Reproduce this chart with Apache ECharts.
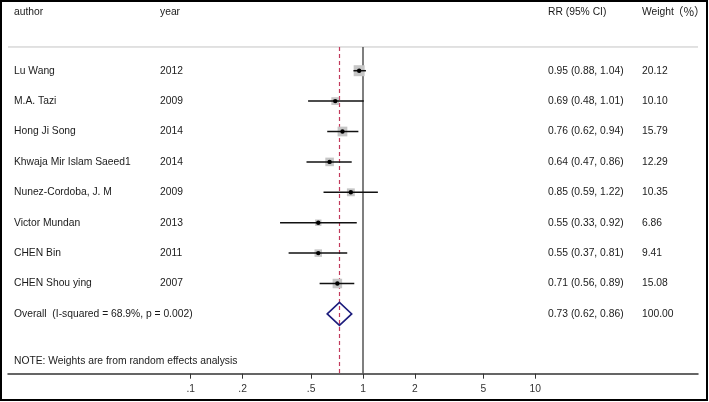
<!DOCTYPE html>
<html><head><meta charset="utf-8">
<script src="https://cdn.jsdelivr.net/npm/echarts@6/dist/echarts.min.js"></script>
<style>html,body{margin:0;padding:0;background:#fff}#c{width:709px;height:402px}</style>
</head><body><div id="c"></div>
<script>
const authors = ['Lu Wang','M.A. Tazi','Hong Ji Song','Khwaja Mir Islam Saeed1','Nunez-Cordoba, J. M','Victor Mundan','CHEN Bin','CHEN Shou ying'];
const years = ['2012','2009','2014','2014','2009','2013','2011','2007'];
const rr = [0.95,0.69,0.76,0.64,0.85,0.55,0.55,0.71];
const ciLow = [0.88,0.48,0.62,0.47,0.59,0.33,0.37,0.56];
const ciHigh = [1.04,1.01,0.94,0.86,1.22,0.92,0.81,0.89];
const weights = [20.12,10.10,15.79,12.29,10.35,6.86,9.41,15.08];
const overall = {label:'Overall  (I-squared = 68.9%, p = 0.002)', rr:0.73, lo:0.62, hi:0.86, w:100.00};
const tickValues = [0.1,0.2,0.5,1,2,5,10];
const tickLabels = ['.1','.2','.5','1','2','5','10'];
const headers = ['author','year','RR (95% CI)','Weight'];
const headerUnit = '（%）';
const note = 'NOTE: Weights are from random effects analysis';

const L = Math.log10;
const FONT = 'Liberation Sans, Arial, sans-serif';
const FS = 10.3;
const colX = [14, 160, 548, 642];
const headX = [14, 160, 548, 642];
const nullValue = 1;

const rowsData = rr.map((v,i)=>[L(v), i, L(ciLow[i]), L(ciHigh[i]), weights[i]]);
const textRows = authors.map((a,i)=>[0, i, a, years[i],
  rr[i].toFixed(2)+' ('+ciLow[i].toFixed(2)+', '+ciHigh[i].toFixed(2)+')', weights[i].toFixed(2)]);
textRows.push([0, 8, overall.label, '', overall.rr.toFixed(2)+' ('+overall.lo.toFixed(2)+', '+overall.hi.toFixed(2)+')', overall.w.toFixed(2)]);

const chart = echarts.init(document.getElementById('c'));
const tickLogs = tickValues.map(L);
const yTop = -0.78;
function txt(t, x, y, extra){
  return Object.assign({type:'text', style:{text:t, x:x, y:y, fill:'#1a1a1a', fontSize:FS, fontFamily:FONT, verticalAlign:'middle', align:'left'}}, extra||{});
}
chart.setOption({
  animation:false,
  grid:{left:8, right:11, top:0, bottom:28.3},
  xAxis:{type:'value', min:-2.0604, max:1.9443,
    axisLine:{show:true, onZero:false, lineStyle:{color:'#333', width:1.5}},
    axisTick:{show:true, customValues:tickLogs, length:5, lineStyle:{color:'#333', width:1}},
    axisLabel:{show:true, customValues:tickLogs, margin:10, color:'#333', fontSize:FS, fontFamily:FONT,
      formatter:(v)=>{let k=tickLogs.findIndex(t=>Math.abs(t-v)<1e-6);return k>=0?tickLabels[k]:'';}},
    splitLine:{show:false}},
  yAxis:{type:'value', inverse:true, min:-2.326, max:9.967, show:false},
  graphic:[{type:'rect', shape:{x:1,y:1,width:706,height:399}, style:{fill:'none', stroke:'#000', lineWidth:2}, z:100}],
  series:[
    {type:'custom', clip:false, z:1, data:[[0,0]], renderItem:(params, api)=>{
      const cs = params.coordSys;
      const pTop = api.coord([0, yTop])[1];
      const pBot = cs.y + cs.height;
      const xn = api.coord([L(nullValue), 0])[0];
      const xo = Math.round(api.coord([L(overall.rr), 0])[0]) + 0.5;
      return {type:'group', children:[
        {type:'line', shape:{x1:cs.x, y1:pTop, x2:cs.x+cs.width, y2:pTop}, style:{stroke:'#c4c4c4', lineWidth:1}},
        {type:'line', shape:{x1:xn, y1:pTop, x2:xn, y2:pBot}, style:{stroke:'#555', lineWidth:1.5}},
        {type:'line', shape:{x1:xo, y1:pTop, x2:xo, y2:pBot}, style:{stroke:'#c23a5c', lineWidth:1.2, lineDash:[4,3]}}
      ]};
    }},
    {type:'custom', clip:false, z:3, data:rowsData, encode:{x:0,y:1}, renderItem:(params, api)=>{
      const c = api.coord([api.value(0), api.value(1)]);
      const lo = api.coord([api.value(2), api.value(1)]);
      const hi = api.coord([api.value(3), api.value(1)]);
      const s = 2.45*Math.sqrt(api.value(4));
      return {type:'group', children:[
        {type:'rect', shape:{x:c[0]-s/2, y:c[1]-s/2, width:s, height:s}, style:{fill:'#c6c6c6'}},
        {type:'line', shape:{x1:lo[0], y1:lo[1], x2:hi[0], y2:hi[1]}, style:{stroke:'#111', lineWidth:1.5}},
        {type:'circle', shape:{cx:c[0], cy:c[1], r:2.2}, style:{fill:'#000'}}
      ]};
    }},
    {type:'custom', clip:false, z:3, data:[[L(overall.rr), 8, L(overall.lo), L(overall.hi)]], encode:{x:0,y:1}, renderItem:(params, api)=>{
      const c = api.coord([api.value(0), api.value(1)]);
      const lo = api.coord([api.value(2), api.value(1)]);
      const hi = api.coord([api.value(3), api.value(1)]);
      const h = 11.5;
      return {type:'polygon', shape:{points:[[lo[0],c[1]],[c[0],c[1]-h],[hi[0],c[1]],[c[0],c[1]+h]]}, style:{fill:'none', stroke:'#1c1c7c', lineWidth:1.6}};
    }},
    {type:'custom', clip:false, z:4, data:textRows, encode:{x:0,y:1}, renderItem:(params, api)=>{
      const i = params.dataIndex;
      const r = textRows[i];
      const y = api.coord([0, r[1]])[1];
      const kids = [];
      [r[2], r[3], r[4], r[5]].forEach((t,k)=>{ if(t) kids.push(txt(t, colX[k], y)); });
      if(i===0){
        const yh = api.coord([0, -1.94])[1];
        headers.forEach((t,k)=>kids.push(txt(t, headX[k], yh)));
        const u = txt(headerUnit, 672, yh);
        u.style.fontFamily = 'Noto Sans CJK SC, sans-serif';
        u.style.fontSize = 11.5;
        kids.push(u);
        const yn = api.coord([0, 9.55])[1];
        kids.push(txt(note, 14, yn));
      }
      return {type:'group', children:kids};
    }}
  ]
});
</script></body></html>
